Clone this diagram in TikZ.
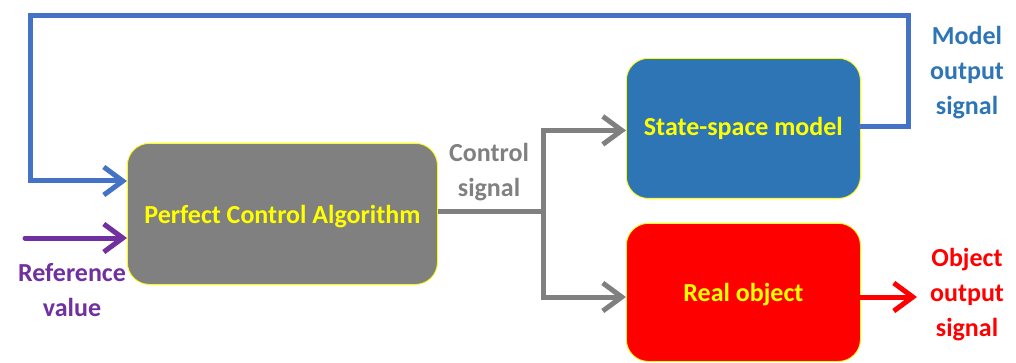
\documentclass[tikz,border=0pt]{standalone}
\usepackage{fontspec}
\setmainfont{Carlito}
\usetikzlibrary{arrows.meta}
\definecolor{boxgray}{RGB}{128,128,128}
\definecolor{boxblue}{RGB}{46,117,182}
\definecolor{lineblue}{RGB}{68,114,196}
\definecolor{purp}{RGB}{112,48,160}
\definecolor{yel}{RGB}{255,255,0}
\tikzset{
  blockbox/.style={draw=yel, line width=0.8pt, rounded corners=22pt, inner sep=0pt, anchor=north west},
  boxtext/.style={text=yel, font=\bfseries\fontsize{26}{30}\selectfont},
  lbl/.style={font=\bfseries\fontsize{26}{35}\selectfont, align=center},
  conn/.style={line width=5pt},
  tip/.style={-{Straight Barb[length=19pt,width=28pt,line width=5pt]}, line cap=round},
}
\begin{document}
\begin{tikzpicture}[x=1pt,y=-1pt]
\useasboundingbox (0,0) rectangle (1016,363);
\begin{scope}
\clip (0,0) rectangle (1016,363);
\node[blockbox, fill=boxgray, minimum width=310pt, minimum height=141pt] (pca) at (127,143) {};
\node[blockbox, fill=boxblue, minimum width=234pt, minimum height=140pt] (ssm) at (626,58) {};
\node[blockbox, fill=red, minimum width=234pt, minimum height=138pt] (obj) at (626,223) {};
\end{scope}
\node[boxtext] at ([yshift=-3pt]pca.center) {Perfect Control Algorithm};
\node[boxtext] at (ssm.center) {State-space model};
\node[boxtext] at ([yshift=-2pt]obj.center) {Real object};

\coordinate (split) at (543,212);
\coordinate (fbA) at (908,127);
\coordinate (fbB) at (908,16);
\coordinate (fbC) at (30,16);
\coordinate (fbD) at (30,181);
\coordinate (refstart) at (25,238);
\coordinate (objend) at (917,297);

% control signal
\draw[conn, boxgray] (pca.east |- split) -- (split);
\draw[conn, boxgray, tip] (split) |- ([yshift=-2pt]ssm.west);
\draw[conn, boxgray, tip] (split) |- (obj.west |- 0,297);
% feedback
\draw[conn, lineblue, tip] (ssm.east |- fbA) -- (fbA) -- (fbB) -- (fbC) -- (fbD) -- (pca.west |- fbD);
% reference
\draw[conn, purp, tip] (refstart) -- (pca.west |- refstart);
% object output
\draw[conn, red, tip] (obj.east |- objend) -- (objend);

\node[lbl, text=boxgray] (cs) at (489,172) {Control\\signal};
\node[lbl, text=boxblue] (mos) at (967,73) {Model\\output\\signal};
\node[lbl, text=purp] (rv) at (72,290) {Reference\\value};
\node[lbl, text=red] (oos) at (967,295) {Object\\output\\signal};
\end{tikzpicture}
\end{document}
